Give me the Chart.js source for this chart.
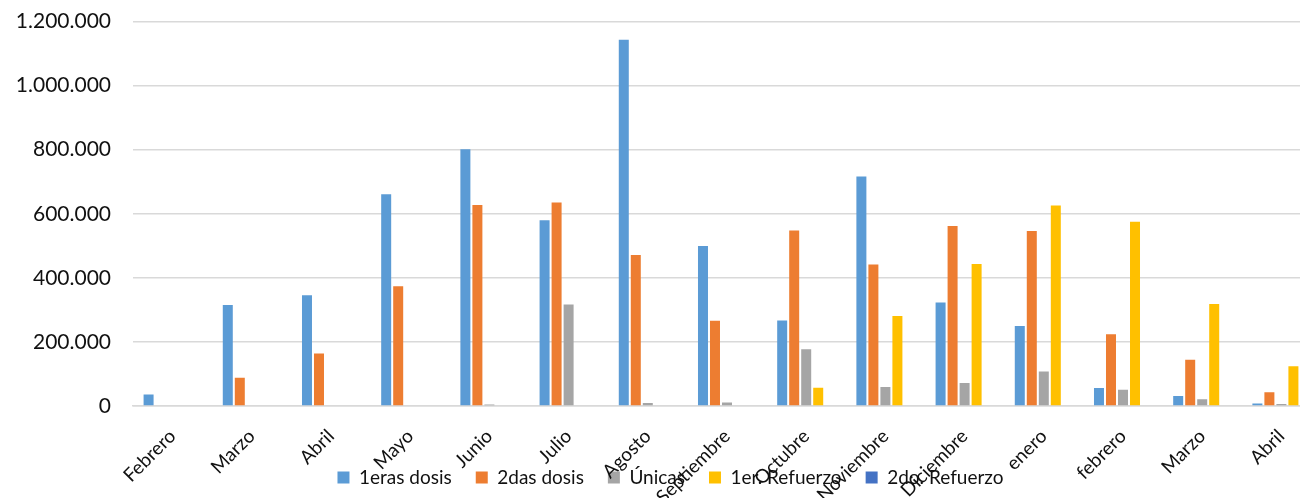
<!DOCTYPE html>
<html>
<head>
<meta charset="utf-8">
<script src="https://cdn.jsdelivr.net/npm/chart.js@4"></script>
<style>
html,body{margin:0;padding:0;background:#fff;overflow:hidden;}
#wrap{position:relative;width:1340px;height:498px;}
</style>
</head>
<body>
<div id="wrap"><canvas id="c" width="1340" height="498"></canvas></div>
<script>
const months = ['Febrero','Marzo','Abril','Mayo','Junio','Julio','Agosto','Septiembre','Octubre','Noviembre','Diciembre','enero','febrero','Marzo','Abril'];
const primerasDosis = [36000, 315000, 346000, 661000, 801000, 580000, 1143000, 499000, 267000, 716000, 323000, 250000, 56000, 31000, 8000];
const segundasDosis = [0, 88000, 164000, 374000, 627000, 635000, 471000, 266000, 548000, 442000, 562000, 546000, 224000, 144000, 43000];
const unicas = [0, 0, 0, 0, 5000, 317000, 9000, 11000, 177000, 59000, 72000, 108000, 51000, 21000, 6000];
const primerRefuerzo = [0, 0, 0, 0, 0, 0, 0, 0, 57000, 281000, 443000, 626000, 575000, 318000, 124000];
const segundoRefuerzo = [0, 0, 0, 0, 0, 0, 0, 0, 0, 0, 0, 0, 0, 0, 0];
const seriesNames = ['1eras dosis', '2das dosis', 'Únicas', '1er. Refuerzo', '2do. Refuerzo'];
const seriesColors = ['#5B9BD5', '#ED7D31', '#A5A5A5', '#FFC000', '#4472C4'];
const yTicks = [0, 200000, 400000, 600000, 800000, 1000000, 1200000];

const fmt = v => String(v).replace(/\B(?=(\d{3})+(?!\d))/g, '.');
const FONT = 'Lato, "Open Sans", sans-serif';
const allSeries = [primerasDosis, segundasDosis, unicas, primerRefuerzo, segundoRefuerzo];

// let x tick labels overflow downward into the legend area (as in the original)
const overflowLabels = {
  id: 'overflowLabels',
  afterLayout(chart) {
    const x = chart.scales.x;
    x.bottom = chart.height;
    const lg = chart.legend;
    if (lg) { lg.left += 10; lg.right += 10; }
  }
};

new Chart(document.getElementById('c'), {
  type: 'bar',
  data: {
    labels: months,
    datasets: allSeries.map((d, i) => ({
      label: seriesNames[i],
      data: d,
      backgroundColor: seriesColors[i],
      borderWidth: 0,
      categoryPercentage: 0.758,
      barPercentage: 0.833
    }))
  },
  plugins: [overflowLabels],
  options: {
    responsive: false,
    animation: false,
    layout: { padding: { top: 21.5, left: 0, right: 19, bottom: 1 } },
    plugins: {
      tooltip: { enabled: false },
      legend: {
        position: 'bottom',
        labels: {
          font: { family: FONT, size: 19 },
          color: '#111',
          boxWidth: 12,
          boxHeight: 12,
          padding: 24
        }
      }
    },
    scales: {
      x: {
        grid: { display: false, drawTicks: false },
        border: { display: true, color: '#D9D9D9', width: 1.5 },
        ticks: {
          font: { family: FONT, size: 19 },
          color: '#111',
          maxRotation: 45,
          minRotation: 45,
          autoSkip: false,
          padding: 19
        },
        afterFit: s => { s.height = 38; }
      },
      y: {
        min: 0,
        max: 1200000,
        afterBuildTicks: s => { s.ticks = yTicks.map(v => ({ value: v })); },
        grid: { color: '#D9D9D9', lineWidth: 1.5, drawTicks: false },
        border: { display: false },
        ticks: {
          font: { family: FONT, size: 21 },
          color: '#111',
          padding: 22,
          callback: v => fmt(v)
        },
        afterFit: s => { s.width = 133; s.paddingTop = 12; s.paddingBottom = 12; }
      }
    }
  }
});
</script>
</body>
</html>
